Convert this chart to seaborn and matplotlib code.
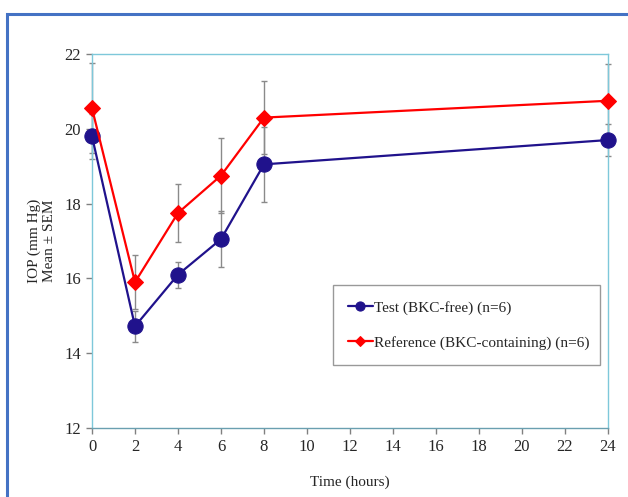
import pandas as pd
import matplotlib.pyplot as plt
import matplotlib.patches as mpatches
import seaborn as sns

# IOP over time, two formulations
hours = [0, 2, 4, 6, 8, 24]
test_mean = [19.8, 14.72, 16.1, 17.05, 19.05, 19.7]
test_sem = [0.6, 0.42, 0.35, 0.75, 1.0, 0.43]
ref_mean = [20.55, 15.9, 17.75, 18.75, 20.3, 20.75]
ref_sem = [1.2, 0.73, 0.77, 1.0, 0.98, 0.98]
labels = ['Test (BKC-free) (n=6)', 'Reference (BKC-containing) (n=6)']

df = pd.DataFrame({
    'Time': hours * 2,
    'IOP': test_mean + ref_mean,
    'SEM': test_sem + ref_sem,
    'Group': [labels[0]] * len(hours) + [labels[1]] * len(hours),
})

sns.set_style('white')
plt.rcParams['font.family'] = ['Liberation Serif', 'DejaVu Serif']

fig = plt.figure(figsize=(6.28, 4.97), dpi=100)
ax = fig.add_axes([0.1465, 0.1388, 0.8215, 0.7525])

# outer blue frame
fig.patches.append(mpatches.Rectangle((7 / 628, -0.05), 1.2, 1 - 14 / 497 + 0.05,
                                      transform=fig.transFigure, fill=False,
                                      edgecolor='#4472c4', lw=2.2))

colors = {labels[0]: '#20128c', labels[1]: '#ff0000'}
markers = {labels[0]: 'o', labels[1]: 'D'}
sizes = {labels[0]: 11, labels[1]: 8}

for g in labels:
    sub = df[df['Group'] == g]
    ax.errorbar(sub['Time'], sub['IOP'], yerr=sub['SEM'], fmt='none',
                ecolor='#8a8a8a', elinewidth=1, capsize=2, capthick=1,
                zorder=1, clip_on=False)

for g in labels:
    sub = df[df['Group'] == g]
    sns.lineplot(data=sub, x='Time', y='IOP', ax=ax, color=colors[g],
                 marker=markers[g], markersize=sizes[g], markeredgecolor=colors[g],
                 linewidth=1.6, label=g, zorder=3, clip_on=False)

ax.set_xlim(0, 24)
ax.set_ylim(12, 22)
ax.set_xticks(range(0, 25, 2))
ax.set_yticks(range(12, 23, 2))
ax.tick_params(axis='both', direction='out', length=4, width=1, color='#808080',
               labelsize=12, bottom=True, left=True, pad=4)
for s in ax.spines.values():
    s.set_color('#7ec8da')
    s.set_linewidth(1)
ax.spines['bottom'].set_color('#6a9fb0')

ax.set_xlabel('Time (hours)', fontsize=11, labelpad=15)
ax.set_ylabel('IOP (mm Hg)\nMean ± SEM', fontsize=11, labelpad=6, linespacing=1.2)

leg = ax.legend(loc='lower left', bbox_to_anchor=(0.467, 0.168, 0.517, 0.238),
                mode='expand', fontsize=11, frameon=True, fancybox=False,
                labelspacing=1.4, handlelength=1.6, handletextpad=0.1,
                borderpad=1.0, markerscale=0.6, borderaxespad=0)
leg.get_frame().set_edgecolor('#808080')
leg.get_frame().set_linewidth(1)

fig.savefig('out.png', dpi=100)
